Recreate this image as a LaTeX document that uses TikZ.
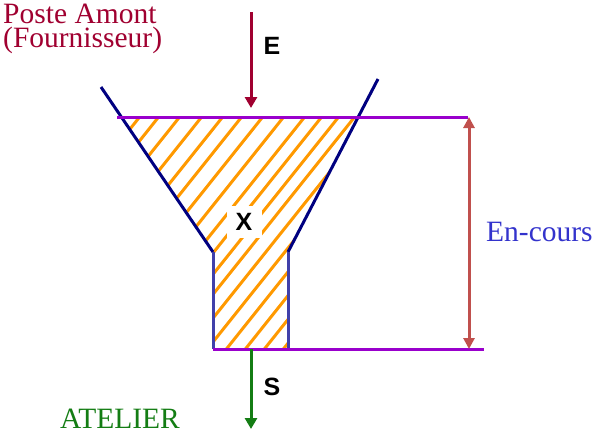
\documentclass[tikz,border=0pt]{standalone}
\usepackage{fontspec}
\setmainfont{Liberation Serif}
\newfontfamily\lblsans{Liberation Sans}
\usetikzlibrary{arrows.meta}
\definecolor{posteRed}{RGB}{160,0,48}
\definecolor{purp}{RGB}{153,0,204}
\definecolor{navyb}{RGB}{0,0,128}
\definecolor{neckb}{RGB}{64,64,170}
\definecolor{hatchOr}{RGB}{255,153,0}
\definecolor{roseRed}{RGB}{192,80,77}
\definecolor{dkGreen}{RGB}{20,125,20}
\definecolor{encBlue}{RGB}{51,51,204}
\begin{document}
\begin{tikzpicture}[x=1pt,y=-1pt,
  bigtext/.style={inner sep=0pt,anchor=base west,font=\fontsize{29.5}{29.5}\selectfont},
  letter/.style={inner sep=0pt,font=\lblsans\bfseries\fontsize{25}{25}\selectfont},
  levelline/.style={purp,line width=3pt},
  funnel/.style={navyb,line width=3pt},
  neck/.style={neckb,line width=3pt},
  hatchline/.style={hatchOr,line width=3pt},
  flowarrow/.style={line width=3pt,-{Triangle[length=11pt,width=12pt]}},
]
\useasboundingbox (0,0) rectangle (592,429);

% hatched region
\begin{scope}
  \clip (121,117) -- (358,117) -- (288,252) -- (288,349) -- (213,349) -- (213,252) -- cycle;
  \foreach \c in {142,161,182,204,225,244,265,286,307,324,341,357,376,395,414,433,452,471,490,509,528,547}
    \draw[hatchline] (\c,114) -- ({\c-190},352);
\end{scope}

% coordinates
\coordinate (TL) at (117,117);
\coordinate (TR) at (468,117);
\coordinate (BL) at (213,349);
\coordinate (BR) at (484,349);
\coordinate (LF0) at (101,87);
\coordinate (LF1) at (213,252);
\coordinate (RF0) at (378,79);
\coordinate (RF1) at (288,252);
\coordinate (RN1) at (288,349);
\coordinate (E0) at (251,12);
\coordinate (E1) at (251,108);
\coordinate (S0) at (251,349);
\coordinate (S1) at (251,429);
\coordinate (EC0) at (469,117);
\coordinate (EC1) at (469,349);

% funnel
\draw[funnel] (LF0) -- (LF1);
\draw[funnel] (RF0) -- (RF1);
\draw[neck] (LF1) -- (BL);
\draw[neck] (RF1) -- (RN1);

% level lines
\draw[levelline] (TL) -- (TR);
\draw[levelline] (BL) -- (BR);

% arrows
\draw[flowarrow,posteRed] (E0) -- (E1);
\draw[flowarrow,dkGreen] (S0) -- (S1);
\draw[roseRed,line width=3pt,{Triangle[length=11pt,width=11pt]}-{Triangle[length=11pt,width=11pt]}] (EC0) -- (EC1);

% labels
\node[bigtext,text=posteRed] (poste) at (3,23) {Poste Amont};
\node[bigtext,text=posteRed] (fourn) at (3,47) {(Fournisseur)};
\node[bigtext,text=dkGreen] (atelier) at (60,428) {ATELIER};
\node[bigtext,text=encBlue] (encours) at (486,241) {En-cours};
\node[letter] (lE) at (272,45.5) {E};
\node[letter] (lS) at (272,387) {S};
\node[letter,fill=white,minimum width=35pt,minimum height=32pt] (lX) at (244,222) {X};
\end{tikzpicture}
\end{document}
